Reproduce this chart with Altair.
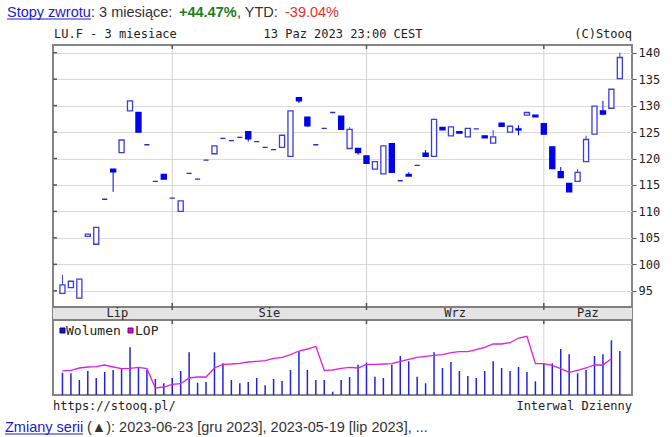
import altair as alt
import pandas as pd

# ---- data (LU.F, daily, 3 months) ----
opens = [94.5, 95.6, 93.6, 105.3, 103.8, 112.3, 118.0, 121.1, 129.0, 128.7,
         122.6, 115.7, 117.0, 112.5, 110.0, 117.2, 116.1, 119.7, 120.9, 123.8,
         123.4, 124.0, 125.1, 123.2, 122.1, 121.7, 122.1, 120.4, 131.5, 127.8,
         122.6, 125.7, 128.7, 128.0, 121.9, 121.9, 120.5, 118.0, 117.1, 122.8,
         115.8, 117.0, 118.7, 121.0, 120.4, 125.9, 124.3, 125.1, 124.1, 125.6,
         124.3, 122.9, 126.7, 125.0, 125.6, 128.2, 128.2, 126.6, 122.2, 117.5,
         115.3, 115.7, 119.4, 124.6, 129.0, 129.5, 135.1]
closes = [96.1, 96.8, 97.2, 105.7, 107.0, 112.3, 117.5, 123.5, 130.9, 125.0,
          122.6, 115.7, 116.1, 112.5, 112.0, 117.2, 116.1, 119.7, 122.4, 123.8,
          123.4, 124.0, 123.7, 123.2, 122.1, 121.7, 124.4, 129.0, 130.9, 126.2,
          122.6, 125.7, 128.7, 125.5, 125.5, 121.1, 119.1, 119.4, 122.4, 117.4,
          115.8, 116.7, 118.7, 120.4, 127.4, 125.4, 126.0, 124.8, 125.7, 125.6,
          123.9, 124.1, 126.1, 126.1, 125.4, 128.7, 127.9, 124.6, 118.1, 116.4,
          113.7, 117.4, 123.6, 129.9, 128.4, 133.1, 139.1]
highs = [98.0, 96.8, 97.2, 105.7, 107.0, 112.3, 118.0, 123.5, 130.9, 128.7,
         122.6, 115.7, 117.0, 112.5, 112.0, 117.2, 116.1, 119.7, 122.4, 123.8,
         123.4, 124.0, 125.1, 123.2, 122.1, 121.7, 124.4, 129.0, 131.5, 127.8,
         122.6, 125.7, 128.7, 128.0, 125.9, 121.9, 120.5, 119.4, 122.4, 122.8,
         115.8, 117.4, 118.7, 121.6, 127.4, 125.9, 126.0, 125.1, 125.7, 125.6,
         124.3, 125.4, 126.7, 126.1, 126.3, 128.7, 128.2, 126.6, 122.2, 118.4,
         115.3, 118.0, 124.3, 129.9, 130.9, 133.1, 140.0]
lows = [94.5, 95.6, 93.6, 105.3, 103.8, 112.3, 113.7, 121.1, 129.0, 125.0,
        122.6, 115.7, 116.1, 112.5, 110.0, 117.2, 116.1, 119.7, 120.9, 123.8,
        123.4, 124.0, 123.2, 123.2, 122.1, 121.7, 122.1, 120.4, 130.5, 126.0,
        122.6, 125.7, 128.7, 125.5, 121.9, 120.7, 119.1, 118.0, 117.1, 117.4,
        115.8, 116.7, 118.7, 120.4, 120.4, 125.4, 124.3, 124.8, 124.1, 125.6,
        123.9, 122.9, 126.1, 125.0, 124.4, 128.2, 127.9, 124.6, 118.1, 116.4,
        113.7, 115.7, 119.4, 124.6, 128.2, 129.5, 135.1]
volume = [223, 217, 150, 240, 170, 230, 250, 267, 477, 277,
          250, 160, 117, 170, 240, 427, 123, 130, 427, 317,
          150, 117, 130, 170, 97, 160, 140, 250, 433, 250,
          150, 150, 33, 150, 180, 303, 323, 183, 170, 303,
          390, 337, 183, 117, 427, 270, 330, 240, 190, 170,
          240, 337, 270, 240, 280, 230, 137, 310, 317, 460,
          407, 217, 250, 390, 407, 547, 440]
lop = [243, 247, 270, 280, 283, 300, 280, 263, 267, 277,
       263, 70, 80, 107, 113, 170, 180, 180, 270, 307,
       310, 317, 330, 337, 343, 367, 377, 403, 440, 460,
       487, 247, 250, 267, 277, 270, 307, 307, 310, 313,
       337, 357, 377, 387, 397, 403, 423, 433, 433, 453,
       477, 510, 510, 523, 570, 587, 313, 313, 297, 263,
       227, 247, 270, 300, 300, 363]
month_names = ["Lip", "Sie", "Wrz", "Paz"]
month_start = [1, 14, 37, 58]
yticks = [95, 100, 105, 110, 115, 120, 125, 130, 135, 140]

# ---- tables ----
n = len(opens)
df = pd.DataFrame({"i": list(range(1, n + 1)), "open": opens, "close": closes,
                   "high": highs, "low": lows, "vol": volume})
df["dir"] = ["up" if c > o else ("down" if c < o else "flat") for o, c in zip(opens, closes)]
lop_df = pd.DataFrame({"i": list(range(1, len(lop) + 1)), "lop": lop})
XMAX = 68.44
ends = month_start[1:] + [XMAX]
mdf = pd.DataFrame({"m": month_names, "c": [(a + b) / 2 for a, b in zip(month_start, ends)]})
bdf = pd.DataFrame({"b": month_start[1:]})
tdf = pd.DataFrame({"t": yticks})
one = alt.Data(values=[{"a": 1}])

W, H = 579, 350
xs = alt.Scale(domain=[-0.12, XMAX], nice=False, zero=False)
ps = alt.Scale(domain=[75.3, 141.46], nice=False, zero=False)
vs = alt.Scale(domain=[0, 3500], nice=False, zero=False)
dir_dom = ["up", "down", "flat"]
fill_s = alt.Scale(domain=dir_dom, range=["#ffffff", "#0000f0", "#2828d8"])
stroke_s = alt.Scale(domain=dir_dom, range=["#3c3cdc", "#0000f0", "#2828d8"])
MONO = "DejaVu Sans Mono"
SANS = "Liberation Sans"

paxis = alt.Axis(orient="right", values=yticks, grid=True, gridColor="#dadada", gridWidth=1,
                 domain=False, ticks=True, tickSize=4, tickColor="#555555", labelFont=MONO,
                 labelFontSize=12, labelColor="#222222", labelPadding=2, title=None, format="d")

# ---- background pieces ----
band = alt.Chart(one).mark_rect(fill="#e4e4e4").encode(
    x=alt.value(0), x2=alt.value(W), y=alt.value(262), y2=alt.value(275))
band_lines = alt.layer(*[
    alt.Chart(one).mark_rule(color="#808080", strokeWidth=2).encode(
        x=alt.value(0), x2=alt.value(W), y=alt.value(yy)) for yy in (262, 275)])
vgrid = alt.layer(*[
    alt.Chart(bdf).mark_rule(color="#d2d2d2", strokeWidth=1).encode(
        x=alt.X("b:Q", scale=xs, axis=None), y=alt.value(y1), y2=alt.value(y2))
    for y1, y2 in ((0, 262), (275, H))])
dticks = alt.layer(*[
    alt.Chart(bdf).mark_rule(color="#555555", strokeWidth=1.5).encode(
        x=alt.X("b:Q", scale=xs, axis=None), y=alt.value(y1), y2=alt.value(y2))
    for y1, y2 in ((0, 4), (258, 262), (262, 265), (275, 279))])
lticks = alt.Chart(tdf).mark_rule(color="#555555", strokeWidth=1.5).encode(
    x=alt.value(0), x2=alt.value(4), y=alt.Y("t:Q", scale=ps, axis=paxis))

wicks = alt.Chart(df).mark_rule(strokeWidth=1).encode(
    x=alt.X("i:Q", scale=xs, axis=None),
    y=alt.Y("low:Q", scale=ps, axis=paxis), y2="high:Q",
    color=alt.Color("dir:N", scale=stroke_s, legend=None))
bodies = alt.Chart(df).transform_calculate(
    x1="datum.i - 0.3", x2="datum.i + 0.3").mark_rect(strokeWidth=1.3).encode(
    x=alt.X("x1:Q", scale=xs, axis=None), x2="x2:Q",
    y=alt.Y("open:Q", scale=ps, axis=paxis), y2="close:Q",
    fill=alt.Fill("dir:N", scale=fill_s, legend=None),
    stroke=alt.Stroke("dir:N", scale=stroke_s, legend=None))
price = alt.layer(lticks, wicks, bodies)

vbars = alt.Chart(df).transform_calculate(z="0").mark_rule(strokeWidth=1.5, color="#2323d6").encode(
    x=alt.X("i:Q", scale=xs, axis=None), y=alt.Y("vol:Q", scale=vs, axis=None), y2="z:Q")
lopline = alt.Chart(lop_df).mark_line(color="#e020e0", strokeWidth=1.3).encode(
    x=alt.X("i:Q", scale=xs, axis=None), y=alt.Y("lop:Q", scale=vs, axis=None))
vol_layer = alt.layer(vbars, lopline)

mlabels = alt.Chart(mdf).mark_text(font=MONO, fontSize=12, color="#222222", baseline="alphabetic").encode(
    x=alt.X("c:Q", scale=xs, axis=None), y=alt.value(271.5), text="m:N")


def txt(s, x, y, size=12, font=MONO, color="#222222", align="left", weight="normal"):
    return alt.Chart(one).mark_text(text=s, font=font, fontSize=size, color=color, align=align,
                                    baseline="alphabetic", fontWeight=weight).encode(
        x=alt.value(x), y=alt.value(y))


def uline(x1, x2, y, color):
    return alt.Chart(one).mark_rule(color=color, strokeWidth=1).encode(
        x=alt.value(x1), x2=alt.value(x2), y=alt.value(y))


def sq(x1, y1, fill, stroke):
    return alt.Chart(one).mark_rect(fill=fill, stroke=stroke, strokeWidth=1).encode(
        x=alt.value(x1), x2=alt.value(x1 + 5), y=alt.value(y1), y2=alt.value(y1 + 5))


LINK = "#1a1acd"
texts = alt.layer(
    txt("Stopy zwrotu", -46, -28, 14.5, SANS, LINK),
    uline(-46, 38, -26, LINK),
    txt(": 3 miesiące:", 38, -28, 14.5, SANS, "#333333"),
    txt("+44.47%", 126, -28, 14.5, SANS, "#1e7b1e", weight="bold"),
    txt(", YTD:", 184, -28, 14.5, SANS, "#333333"),
    txt("-39.04%", 232, -28, 14.5, SANS, "#e4322b"),
    txt("LU.F - 3 miesiace", 1, -7),
    txt("13 Paz 2023 23:00 CEST", 290, -7, align="center"),
    txt("(C)Stooq", W, -7, align="right"),
    sq(7, 283, "#1414d0", "#000080"),
    txt("Wolumen", 13, 289.5, 13),
    sq(75, 283, "#e000e0", "#700070"),
    txt("LOP", 82, 289.5, 13),
    txt("https://stooq.pl/", 0, 364.5),
    txt("Interwal Dzienny", W, 364.5, align="right"),
    txt("Zmiany serii", -48, 387, 14.5, SANS, LINK),
    uline(-48, 30, 389, LINK),
    txt("(▲): 2023-06-23 [gru 2023], 2023-05-19 [lip 2023], ...", 34, 387, 14.5, SANS, "#333333"),
)

chart = alt.layer(band, vgrid, price, vol_layer, band_lines, dticks, mlabels, texts).resolve_scale(
    y="independent").properties(
    width=W, height=H,
    padding={"left": 53, "top": 45, "right": 40, "bottom": 42},
    autosize=alt.AutoSizeParams(type="none"),
    background="white",
).configure_view(stroke="#858585", strokeWidth=2)

chart.save("out.html", embed_options={"renderer": "svg", "actions": False})
